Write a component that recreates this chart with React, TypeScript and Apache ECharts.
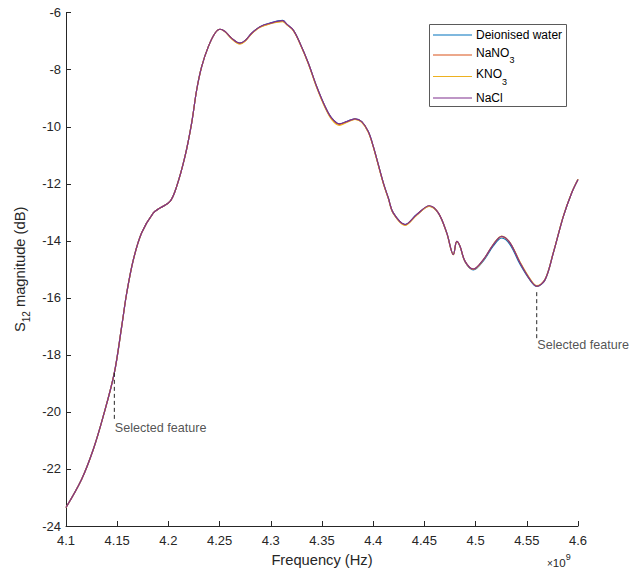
import React, { useEffect, useRef } from 'react';
import * as echarts from 'echarts';

// Frequency in GHz (axis shows x10^9 Hz)
const freqGHz = [
  4.1, 4.1153, 4.1267, 4.1364, 4.1472, 4.1544, 4.1593, 4.1658, 4.1739, 4.1853,
  4.1918, 4.2016, 4.2081, 4.2162, 4.2227, 4.2276, 4.2325, 4.239, 4.2455, 4.2504,
  4.2553, 4.2618, 4.2699, 4.2748, 4.2813, 4.2895, 4.2992, 4.3116, 4.3155, 4.322,
  4.3285, 4.3367, 4.3448, 4.353, 4.3595, 4.3669, 4.3741, 4.3822, 4.3888, 4.3952,
  4.4001, 4.4099, 4.4148, 4.4196, 4.4311, 4.4425, 4.4548, 4.4636, 4.4718, 4.4783,
  4.4816, 4.4848, 4.4897, 4.4978, 4.5076, 4.5173, 4.5255, 4.5336, 4.5434, 4.5532,
  4.5597, 4.5678, 4.5759, 4.5857, 4.5938, 4.6,
];

const deionisedWater = [
  -23.35, -22.36, -21.31, -20.15, -18.63, -17.0, -15.83, -14.66, -13.72, -13.02,
  -12.85, -12.62, -12.09, -11.04, -9.87, -8.71, -7.89, -7.19, -6.72, -6.58,
  -6.66, -6.9, -7.07, -6.98, -6.72, -6.49, -6.36, -6.27, -6.4, -6.61,
  -7.07, -7.77, -8.59, -9.29, -9.7, -9.9, -9.82, -9.72, -9.82, -10.17,
  -10.69, -11.97, -12.5, -13.02, -13.43, -13.08, -12.78, -13.03, -13.72, -14.48,
  -14.03, -14.2, -14.73, -15.02, -14.7, -14.18, -13.9, -14.13, -14.82, -15.38,
  -15.6, -15.37, -14.42, -13.14, -12.32, -11.85,
];

const naNO3 = [
  -23.35, -22.36, -21.31, -20.15, -18.63, -17.0, -15.83, -14.66, -13.72, -13.02,
  -12.85, -12.62, -12.09, -11.04, -9.87, -8.71, -7.89, -7.19, -6.72, -6.58,
  -6.66, -6.9, -7.08, -6.99, -6.73, -6.5, -6.38, -6.3, -6.41, -6.62,
  -7.08, -7.78, -8.6, -9.3, -9.72, -9.92, -9.83, -9.73, -9.83, -10.18,
  -10.7, -11.98, -12.51, -13.03, -13.44, -13.09, -12.78, -13.02, -13.72, -14.48,
  -14.02, -14.19, -14.72, -14.99, -14.66, -14.13, -13.85, -14.08, -14.77, -15.36,
  -15.59, -15.36, -14.42, -13.14, -12.32, -11.85,
];

const kNO3 = [
  -23.35, -22.36, -21.31, -20.15, -18.63, -17.0, -15.83, -14.66, -13.72, -13.02,
  -12.85, -12.62, -12.09, -11.04, -9.87, -8.71, -7.89, -7.19, -6.72, -6.58,
  -6.67, -6.92, -7.1, -7.0, -6.74, -6.51, -6.39, -6.31, -6.42, -6.63,
  -7.09, -7.8, -8.62, -9.33, -9.75, -9.95, -9.85, -9.74, -9.84, -10.19,
  -10.71, -11.99, -12.52, -13.04, -13.46, -13.1, -12.79, -13.03, -13.73, -14.49,
  -14.03, -14.2, -14.73, -15.0, -14.67, -14.12, -13.83, -14.06, -14.74, -15.33,
  -15.57, -15.35, -14.41, -13.13, -12.31, -11.84,
];

const naCl = [
  -23.35, -22.36, -21.31, -20.15, -18.63, -17.0, -15.83, -14.66, -13.72, -13.02,
  -12.85, -12.62, -12.09, -11.04, -9.87, -8.71, -7.89, -7.19, -6.72, -6.58,
  -6.66, -6.9, -7.07, -6.98, -6.72, -6.49, -6.37, -6.28, -6.4, -6.61,
  -7.07, -7.77, -8.59, -9.29, -9.7, -9.9, -9.82, -9.72, -9.82, -10.17,
  -10.69, -11.97, -12.5, -13.02, -13.43, -13.08, -12.77, -13.02, -13.72, -14.48,
  -14.02, -14.19, -14.72, -14.99, -14.66, -14.13, -13.84, -14.07, -14.77, -15.36,
  -15.59, -15.36, -14.42, -13.14, -12.32, -11.85,
];

const seriesNames = ['Deionised water', 'NaNO3', 'KNO3', 'NaCl'];
// legend text: main part and subscript part
const legendMain = ['Deionised water', 'NaNO', 'KNO', 'NaCl'];
const legendSub = ['', '3', '3', ''];
const seriesValues = [deionisedWater, naNO3, kNO3, naCl];
const seriesColors = ['#0072BD', '#D95319', '#EDB120', '#7E2F8E'];

// "Selected feature" annotations
const featureFreqs = [4.1472, 4.5597];
const featureTop = [-18.63, -15.8];
const featureBottom = [-20.3, -17.46];
const featureLabelY = [-20.56, -17.64];
const featureText = 'Selected feature';

const xMin = 4.1;
const xMax = 4.6;
const xStep = 0.05;
const yMin = -24;
const yMax = -6;
const yStep = 2;

const FONT = '"Liberation Sans", Arial, Helvetica, sans-serif';
const AX = '#262626';

// legend layout (pixels)
const LEG_X = 429.5;
const LEG_Y = 24.5;
const LEG_W = 137;
const LEG_H = 82;
const LEG_LINE_Y = [35, 55, 76.5, 98];
const LEG_TEXT_Y = [35, 52.5, 74, 97.5];
const LEG_SUB_Y = [0, 60, 81.5, 0];
const LEG_SUB_X = [0, 509.5, 502, 0];

export default function App() {
  const ref = useRef<HTMLDivElement>(null);

  useEffect(() => {
    if (!ref.current) return;
    const chart = echarts.init(ref.current, undefined, { renderer: 'svg' });

    const lineSeries = seriesValues.map((vals, i) => ({
      name: seriesNames[i],
      type: 'line',
      data: freqGHz.map((f, j) => [f, vals[j]]),
      symbol: 'none',
      smooth: 0.35,
      lineStyle: { width: 1.2, color: seriesColors[i] },
      itemStyle: { color: seriesColors[i] },
      z: 2 + i,
      silent: true,
    }));

    const dashSeries = featureFreqs.map((f, i) => ({
      type: 'line',
      data: [
        [f, featureTop[i]],
        [f, featureBottom[i]],
      ],
      symbol: 'none',
      lineStyle: { width: 1, color: AX, type: [4, 3] },
      z: 10,
      silent: true,
    }));

    const labelSeries = {
      type: 'scatter',
      data: featureFreqs.map((f, i) => [f, featureLabelY[i]]),
      symbol: 'circle',
      symbolSize: 1,
      itemStyle: { color: 'transparent' },
      label: {
        show: true,
        formatter: featureText,
        position: 'right',
        distance: 0,
        align: 'left',
        verticalAlign: 'middle',
        fontSize: 12.6,
        fontFamily: FONT,
        color: AX,
      },
      z: 11,
      silent: true,
    };

    const legendGraphics: any[] = [
      {
        type: 'rect',
        shape: { x: LEG_X, y: LEG_Y, width: LEG_W, height: LEG_H },
        style: { fill: '#ffffff', stroke: '#5a5a5a', lineWidth: 1 },
        z: 100,
        silent: true,
      },
    ];
    seriesNames.forEach((_, i) => {
      legendGraphics.push({
        type: 'line',
        shape: { x1: 433, y1: LEG_LINE_Y[i], x2: 472, y2: LEG_LINE_Y[i] },
        style: { stroke: seriesColors[i], lineWidth: 1.2 },
        z: 101,
        silent: true,
      });
      legendGraphics.push({
        type: 'text',
        x: 476,
        y: LEG_TEXT_Y[i],
        style: {
          text: legendMain[i],
          fontSize: 12,
          fontFamily: FONT,
          fill: '#000',
          align: 'left',
          verticalAlign: 'middle',
        },
        z: 101,
        silent: true,
      });
      if (legendSub[i]) {
        legendGraphics.push({
          type: 'text',
          x: LEG_SUB_X[i],
          y: LEG_SUB_Y[i],
          style: {
            text: legendSub[i],
            fontSize: 9,
            fontFamily: FONT,
            fill: '#000',
            align: 'left',
            verticalAlign: 'middle',
          },
          z: 101,
          silent: true,
        });
      }
    });

    const option = {
      animation: false,
      backgroundColor: '#ffffff',
      grid: { left: 66, right: 63, top: 12.7, bottom: 45.5, containLabel: false },
      xAxis: {
        type: 'value',
        min: xMin,
        max: xMax,
        interval: xStep,
        name: 'Frequency (Hz)',
        nameLocation: 'middle',
        nameGap: 26,
        nameTextStyle: { fontSize: 14.7, fontFamily: FONT, color: AX },
        axisLine: { show: true, onZero: false, lineStyle: { color: AX, width: 1 } },
        axisTick: { show: true, inside: true, length: 5, lineStyle: { color: AX, width: 1 } },
        axisLabel: {
          fontSize: 13,
          fontFamily: FONT,
          color: AX,
          margin: 8,
          formatter: (v: number) => String(Math.round(v * 100) / 100),
        },
        splitLine: { show: false },
      },
      yAxis: {
        type: 'value',
        min: yMin,
        max: yMax,
        interval: yStep,
        name: '{m|S}{s|12}{m| magnitude (dB)}',
        nameLocation: 'middle',
        nameGap: 34,
        nameRotate: 90,
        nameTextStyle: {
          fontSize: 14.7,
          fontFamily: FONT,
          color: AX,
          rich: {
            m: { fontSize: 14.7, fontFamily: FONT, color: AX, lineHeight: 18 },
            s: { fontSize: 10, fontFamily: FONT, color: AX, lineHeight: 18, padding: [12, 0, 0, 0] },
          },
        },
        axisLine: { show: true, onZero: false, lineStyle: { color: AX, width: 1 } },
        axisTick: { show: true, inside: true, length: 5, lineStyle: { color: AX, width: 1 } },
        axisLabel: { fontSize: 13, fontFamily: FONT, color: AX, margin: 5 },
        splitLine: { show: false },
      },
      graphic: [
        {
          type: 'text',
          x: 547,
          y: 556,
          silent: true,
          style: {
            text: '{x|×}{t|10}{e|9}',
            align: 'left',
            verticalAlign: 'top',
            fill: AX,
            rich: {
              x: { fontSize: 10, fontFamily: FONT, fill: AX, lineHeight: 14 },
              t: { fontSize: 11.5, fontFamily: FONT, fill: AX, lineHeight: 14 },
              e: { fontSize: 9, fontFamily: FONT, fill: AX, lineHeight: 14, padding: [0, 0, 12, 0] },
            },
          },
        },
        ...legendGraphics,
      ],
      series: [...lineSeries, ...dashSeries, labelSeries],
    };

    chart.setOption(option as any);
    return () => chart.dispose();
  }, []);

  return (
    <div
      ref={ref}
      style={{ position: 'fixed', left: 0, top: 0, width: 641, height: 572, background: '#fff' }}
    />
  );
}
